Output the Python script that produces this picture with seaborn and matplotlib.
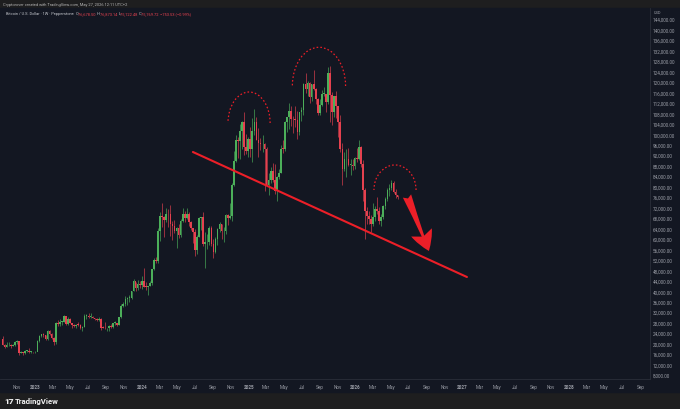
import numpy as np
import pandas as pd
import matplotlib
matplotlib.use("Agg")
import matplotlib.pyplot as plt
import matplotlib.dates as mdates
from matplotlib.patches import Arc, Rectangle
import seaborn as sns

# weekly BTCUSD candles (thousand USD), weeks start on monday
first_week = "2022-09-12"
first_open = 21.8
highs = [
    22.8, 19.9, 20.4, 20.5, 19.9, 19.7, 21.0, 21.5, 21.0, 17.2, 16.8, 17.4, 17.4, 18.4, 17.0, 16.9,
    # 2023
    17.0, 21.4, 23.3, 23.8, 24.2, 23.4, 25.2, 25.1, 23.9, 22.6, 28.4, 28.8, 29.2, 28.6, 30.9, 30.5,
    30.0, 29.8, 28.0, 27.6, 27.5, 28.4, 27.3, 26.6, 31.4, 31.4, 31.5, 31.8, 30.4, 29.9, 29.7, 30.2,
    29.7, 26.8, 28.1, 26.1, 27.0, 27.5, 28.0, 28.6, 28.0, 30.3, 35.2, 35.9, 38.0, 37.9, 38.4, 40.0,
    44.7, 43.4, 44.4, 43.8,
    # 2024
    45.9, 49.0, 43.6, 42.1, 43.8, 48.6, 52.8, 52.9, 64.0, 70.2, 73.8, 68.9, 71.7, 71.3, 72.8, 66.9,
    67.2, 64.7, 65.5, 67.5, 71.9, 70.6, 71.9, 70.2, 66.9, 63.4, 63.8, 61.3, 68.4, 68.5, 70.1, 62.7,
    61.7, 64.9, 64.9, 59.8, 60.7, 64.1, 66.5, 65.6, 64.5, 69.4, 69.5, 73.6, 81.5, 93.4, 99.6, 98.9,
    103.9, 105.2, 108.3, 99.9, 98.9,
    # 2025
    102.7, 106.3, 109.6, 106.4, 102.5, 98.5, 99.5, 96.5, 95.0, 85.3, 87.5, 88.8, 88.5, 84.0, 86.5, 95.8,
    97.9, 104.9, 106.6, 111.9, 110.7, 106.8, 110.6, 108.9, 108.5, 110.5, 119.5, 123.2, 120.2, 120.0, 119.3, 124.5,
    117.6, 113.7, 113.4, 116.8, 117.9, 115.4, 125.7, 126.2, 116.0, 114.7, 116.4, 110.7, 107.5, 96.6, 93.1, 94.2,
    94.6, 90.4, 90.6, 91.3,
    # 2026
    94.8, 97.9, 95.5, 90.0, 79.5, 72.0, 70.5, 69.0, 73.5, 72.5, 75.8, 72.0, 69.5, 73.0, 76.0, 79.5,
    80.8, 82.5, 82.0, 78.9, 76.9,
]
lows = [
    19.3, 18.1, 18.5, 19.1, 18.2, 18.9, 19.2, 20.0, 15.6, 16.2, 15.5, 16.0, 16.8, 16.5, 16.3, 16.3,
    16.5, 17.1, 20.4, 22.3, 22.5, 21.4, 21.5, 23.1, 21.9, 19.6, 20.0, 26.6, 26.5, 27.2, 28.2, 27.1,
    26.9, 27.7, 25.9, 26.2, 25.9, 26.6, 25.4, 24.8, 26.2, 29.5, 29.7, 29.9, 29.6, 29.0, 28.6, 28.7,
    25.2, 25.8, 25.4, 24.9, 24.9, 26.0, 26.0, 27.2, 26.6, 26.9, 29.9, 33.9, 34.5, 34.8, 35.7, 36.9,
    39.9, 40.2, 40.5, 41.3,
    40.7, 41.5, 40.6, 38.5, 41.9, 42.3, 48.1, 50.6, 50.9, 59.0, 64.5, 60.8, 66.6, 64.5, 61.0, 59.6,
    62.4, 56.5, 60.2, 60.6, 66.3, 66.6, 67.6, 65.0, 63.4, 58.4, 53.5, 54.3, 60.6, 63.5, 57.1, 49.0,
    56.1, 57.8, 57.2, 52.6, 54.6, 57.6, 62.6, 59.8, 58.9, 62.0, 65.1, 67.5, 66.8, 80.2, 89.4, 90.8,
    90.5, 94.2, 92.2, 92.5, 91.3,
    91.2, 89.2, 99.5, 97.7, 91.2, 94.1, 93.3, 78.2, 80.0, 76.6, 81.2, 81.6, 77.1, 74.5, 83.0, 85.1,
    92.8, 93.4, 100.7, 102.1, 103.1, 100.4, 102.6, 98.2, 99.6, 105.2, 107.5, 115.7, 114.7, 112.0, 112.7, 116.8,
    111.7, 107.3, 107.3, 110.6, 114.4, 108.6, 111.5, 104.6, 103.5, 106.5, 106.3, 98.9, 93.0, 80.6, 86.0, 83.8,
    88.0, 84.4, 86.4, 86.8,
    89.5, 90.2, 87.3, 74.5, 60.0, 65.5, 65.8, 62.8, 64.8, 67.0, 69.5, 65.5, 65.0, 67.5, 71.5, 74.5,
    76.5, 78.5, 77.5, 75.5, 75.1,
]
closes = [
    19.4, 18.8, 19.3, 19.4, 19.2, 19.6, 20.6, 20.9, 16.3, 16.7, 16.5, 17.1, 17.1, 16.8, 16.8, 16.6,
    16.9, 20.9, 22.7, 23.7, 23.3, 21.8, 24.6, 23.6, 22.2, 20.6, 28.0, 27.5, 28.2, 28.3, 30.4, 27.6,
    29.3, 27.7, 26.9, 26.7, 27.2, 27.1, 25.8, 26.3, 30.5, 30.6, 30.3, 30.3, 29.9, 29.3, 29.0, 29.4,
    26.1, 26.0, 25.8, 25.8, 26.5, 26.2, 27.9, 27.9, 26.9, 30.0, 34.5, 35.0, 37.0, 37.4, 37.4, 39.9,
    43.8, 41.4, 42.9, 42.3,
    43.9, 41.7, 41.6, 42.0, 43.0, 48.3, 52.1, 51.7, 63.1, 68.9, 68.4, 67.2, 69.6, 69.4, 65.7, 64.9,
    63.1, 64.0, 61.5, 66.9, 69.3, 67.8, 69.3, 66.6, 64.3, 62.7, 55.9, 60.8, 68.1, 68.2, 58.1, 58.7,
    58.9, 64.2, 58.0, 54.8, 60.0, 63.6, 65.6, 62.9, 62.9, 69.0, 67.9, 68.8, 80.4, 89.9, 97.9, 97.2,
    101.2, 104.5, 95.2, 93.7, 98.3,
    94.5, 101.3, 104.7, 97.7, 96.5, 96.1, 96.3, 94.2, 80.7, 82.6, 86.1, 82.3, 78.4, 83.8, 85.2, 94.5,
    94.3, 104.6, 106.4, 109.0, 105.7, 105.6, 105.5, 100.9, 108.3, 109.2, 119.0, 117.3, 119.4, 114.2, 119.3, 117.4,
    113.5, 108.2, 111.1, 115.3, 115.3, 112.2, 123.5, 115.0, 108.6, 114.5, 110.6, 104.7, 94.2, 86.8, 90.4, 90.4,
    88.2, 88.2, 87.8, 91.0,
    90.6, 95.0, 88.5, 78.5, 70.5, 68.8, 67.5, 65.5, 68.2, 71.3, 70.8, 67.0, 68.5, 72.5, 75.2, 78.8,
    79.5, 81.4, 78.0, 76.7, 75.8,
]

# drawings on the chart: trend line, three "heads", arrow
trend_dates = ["2024-06-24", "2027-01-17"]
trend_prices = [93180, 45410]
head_centers = ["2025-01-02", "2025-08-29", "2026-05-16"]
head_base = [104260, 118400, 78660]
head_halfwidth_days = [72, 91, 72]
head_halfheight = [11850, 14790, 9550]
arrow_from = ("2026-06-26", 76370)
arrow_to = ("2026-09-09", 55350)

header = "Cryptorover created with TradingView.com, May 27, 2026 12:11 UTC+2"
legend_parts = [("Bitcoin / U.S. Dollar · 1W · Pepperstone  ", "grey"),
                ("O", "grey"), ("76,678.50 ", "red"),
                ("H", "grey"), ("76,873.14 ", "red"),
                ("L", "grey"), ("75,122.48 ", "red"),
                ("C", "grey"), ("75,769.72 ", "red"),
                ("−753.53 (−0.99%)", "red")]

GREEN = "#4caf5a"
RED = "#e5414f"
LINE_RED = "#ec1f28"
NAVY = "#131722"
FRAME = "#1e1e1f"
TXT = "#9a9da6"

df = pd.DataFrame({"date": pd.date_range(first_week, periods=len(closes), freq="7D"),
                   "high": highs, "low": lows, "close": closes})
df["open"] = [first_open] + closes[:-1]
for c in ["open", "high", "low", "close"]:
    df[c] = df[c] * 1000

sns.set_style("dark", {"axes.facecolor": NAVY, "figure.facecolor": FRAME})
plt.rcParams["font.family"] = ["Roboto", "DejaVu Sans"]

W, H = 680, 410
fig = plt.figure(figsize=(6.8, 4.1), dpi=100)
fig.patches.append(Rectangle((0, 1 - 393 / H), 1, 384 / H, transform=fig.transFigure,
                             color=NAVY, zorder=-5))
ax = fig.add_axes([0, 1 - 380 / H, 650 / W, 371 / H])
ax.set_facecolor(NAVY)
ax.set_zorder(2)

up = df["close"] >= df["open"]
for mask, col in [(up, GREEN), (~up, RED)]:
    sub = df[mask]
    ax.vlines(sub["date"], sub["low"], sub["high"], color=col, lw=0.45, zorder=3)
    body = np.maximum((sub["close"] - sub["open"]).abs(), 250)
    ax.bar(sub["date"], body, bottom=np.minimum(sub["open"], sub["close"]),
           width=5.6, color=col, linewidth=0, zorder=4)

trend = pd.DataFrame({"date": pd.to_datetime(trend_dates), "price": trend_prices})
sns.lineplot(data=trend, x="date", y="price", color=LINE_RED, lw=1.5, ax=ax, zorder=5)

for c, b, hw, hh in zip(head_centers, head_base, head_halfwidth_days, head_halfheight):
    ax.add_patch(Arc((mdates.date2num(pd.Timestamp(c)), b), 2 * hw, 2 * hh, theta1=0, theta2=180,
                     color=LINE_RED, lw=0.9, ls=(0, (1.3, 1.7)), zorder=5))

ax.annotate("", xy=(pd.Timestamp(arrow_to[0]), arrow_to[1]),
            xytext=(pd.Timestamp(arrow_from[0]), arrow_from[1]),
            arrowprops=dict(arrowstyle="fancy,head_length=0.9,head_width=1.0,tail_width=0.4",
                            fc=LINE_RED, ec="none", mutation_scale=16, shrinkA=0, shrinkB=0),
            zorder=6)

d0 = mdates.date2num(pd.Timestamp("2023-01-01"))
ppd = 534 / 1826
ax.set_xlim(d0 - 35 / ppd, d0 + 615 / ppd)
pps = 0.002617
ax.set_ylim(144000 - 360 / pps, 144000 + 11 / pps)

months = pd.date_range("2022-11-01", "2028-09-01", freq="2MS")
ax.set_xticks(months)
ax.set_xticklabels([str(m.year) if m.month == 1 else m.strftime("%b") for m in months])
for lab, m in zip(ax.get_xticklabels(), months):
    if m.month == 1:
        lab.set_fontweight("bold")
        lab.set_color("#d1d4dc")
ax.tick_params(axis="x", length=0, pad=3.8, labelsize=3.3, labelcolor=TXT)

ax.yaxis.tick_right()
yt = np.arange(8000, 144001, 4000)
ax.set_yticks(yt)
ax.set_yticklabels([f"{v:,.2f}" for v in yt])
ax.tick_params(axis="y", length=0, pad=2.2, labelsize=3.3, labelcolor=TXT)
ax.set_xlabel("")
ax.set_ylabel("")
ax.grid(False)
for s in ["top", "left"]:
    ax.spines[s].set_visible(False)
for s in ["right", "bottom"]:
    ax.spines[s].set_color("#2a2e39")
    ax.spines[s].set_linewidth(0.6)

fig.text(3 / W, 1 - 5 / H, header, fontsize=2.9, color="#b4b4b4", va="center")
fig.text(654 / W, 1 - 13 / H, "USD", fontsize=2.9, color=TXT, va="center")

renderer = fig.canvas.get_renderer()
x = 6
for txt, kind in legend_parts:
    t = fig.text(x / W, 1 - 14 / H, txt, fontsize=2.9, va="center",
                 color=RED if kind == "red" else "#c4c6cc")
    x += t.get_window_extent(renderer).width

fig.text(4 / W, 1 - 402 / H, "17", fontsize=6, fontweight="heavy", color="#f0f0f0", va="center")
fig.text(15 / W, 1 - 402 / H, "TradingView", fontsize=5.6, fontweight="bold", color="#f0f0f0", va="center")

fig.savefig("out.png", dpi=100, facecolor=FRAME)
